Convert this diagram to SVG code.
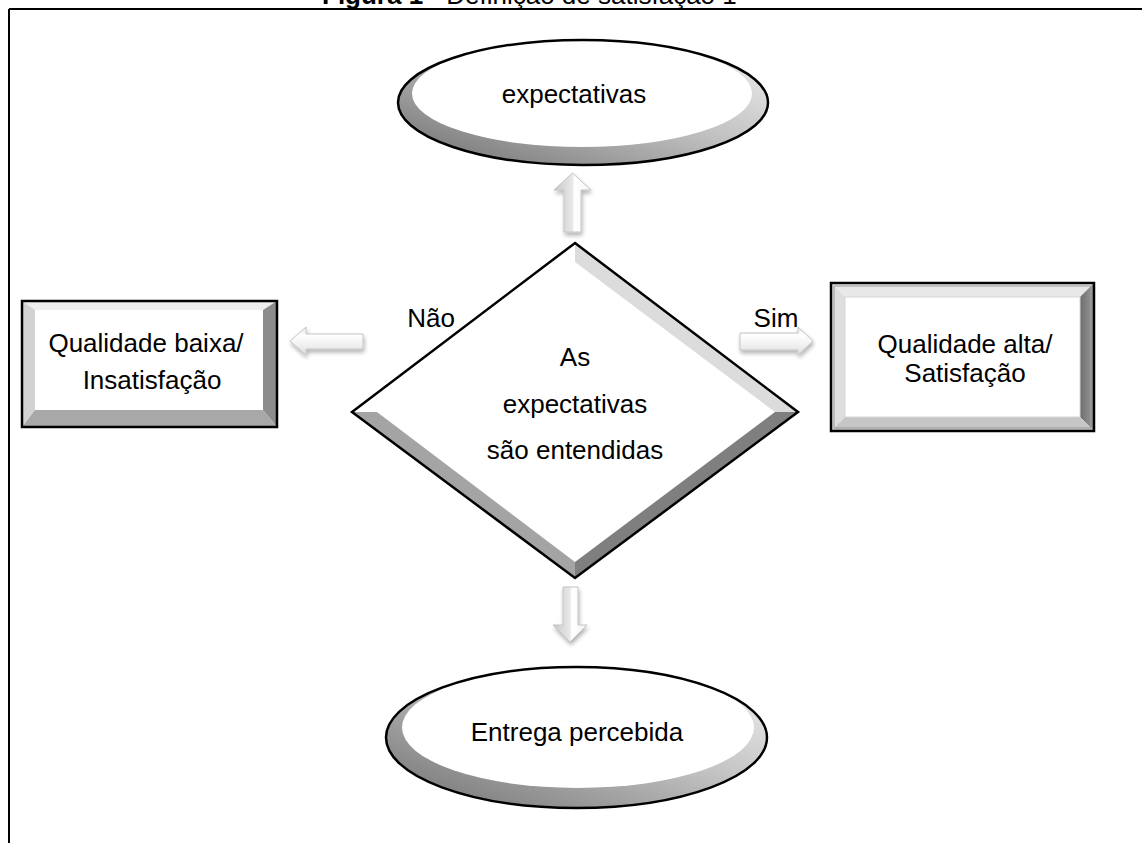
<svg xmlns="http://www.w3.org/2000/svg" width="1142" height="843" viewBox="0 0 1142 843">
<style>
.t{font-family:"Liberation Sans",Arial,Helvetica,sans-serif;font-size:26px;fill:#000;text-anchor:middle}
.ttl{font-family:"Liberation Sans",Arial,Helvetica,sans-serif;font-size:26px;fill:#000}
.frame{stroke:#000;stroke-width:2;fill:none}
.out{fill:none;stroke:#000;stroke-width:2.5}
.arr{stroke:#c4c4c4;stroke-width:1;filter:url(#sh)}
</style>
<defs>
<filter id="sh" x="-40%" y="-40%" width="180%" height="180%">
<feGaussianBlur in="SourceAlpha" stdDeviation="2"/>
<feOffset dx="1" dy="3" result="o"/>
<feComponentTransfer><feFuncA type="linear" slope="0.3"/></feComponentTransfer>
<feMerge><feMergeNode/><feMergeNode in="SourceGraphic"/></feMerge>
</filter>
<linearGradient id="elg" x1="1" y1="0" x2="0" y2="1">
<stop offset="0" stop-color="#f4f4f4"/>
<stop offset="0.45" stop-color="#c2c2c2"/>
<stop offset="1" stop-color="#6e6e6e"/>
</linearGradient>
<linearGradient id="hg" x1="0" y1="0" x2="0" y2="1">
<stop offset="0" stop-color="#e6e6e6"/>
<stop offset="0.3" stop-color="#fff"/>
<stop offset="1" stop-color="#e0e0e0"/>
</linearGradient>
<linearGradient id="vg" x1="0" y1="0" x2="1" y2="0">
<stop offset="0" stop-color="#c8c8c8"/>
<stop offset="0.5" stop-color="#e8e8e8"/>
<stop offset="0.55" stop-color="#fff"/>
<stop offset="1" stop-color="#f4f4f4"/>
</linearGradient>
<linearGradient id="rband" x1="0" y1="0" x2="1" y2="0">
<stop offset="0" stop-color="#6e6e6e"/>
<stop offset="1" stop-color="#9a9a9a"/>
</linearGradient>
</defs>

<text class="ttl" x="322" y="4"><tspan font-weight="bold">Figura 1</tspan> - Definição de satisfação 1</text>
<path class="frame" d="M9 9 H1142 M9 9 V843"/>

<g id="connectors">
<polygon class="arr" fill="url(#vg)" points="572.5,173 591,190 581,190 581,232 564,232 564,190 554,190"/>
<polygon class="arr" fill="url(#vg)" points="563,587 578,587 578,625 587,625 570,642 553,625 563,625"/>
<polygon class="arr" fill="url(#hg)" points="290,341 306,327 306,334 363,334 363,349 306,349 306,355"/>
<polygon class="arr" fill="url(#hg)" points="740,333 798,333 798,327 813,341 798,355 798,350 740,350"/>
<text class="t" x="431" y="327">Não</text>
<text class="t" x="776" y="327">Sim</text>
</g>

<g id="node-expectativas">
<ellipse cx="583" cy="102.5" rx="185" ry="62.5" fill="url(#elg)"/>
<ellipse cx="582" cy="93.5" rx="170" ry="53.5" fill="#fff"/>
<ellipse class="out" cx="583" cy="102.5" rx="185" ry="62.5"/>
<text class="t" x="574" y="103">expectativas</text>
</g>

<g id="node-decisao">
<polygon fill="#fff" points="575,243 575,262 775,412 575,562 377,412 352,412"/>
<polygon fill="#dcdcdc" points="575,243 798,412 775,412 575,262"/>
<polygon fill="#7f7f7f" points="798,412 575,578 575,562 775,412"/>
<polygon fill="#a4a4a4" points="575,578 352,412 377,412 575,562"/>
<polygon class="out" stroke-width="2" points="575,243 798,412 575,578 352,412"/>
<text class="t" x="575" y="366">As</text>
<text class="t" x="575" y="413">expectativas</text>
<text class="t" x="575" y="459">são entendidas</text>
</g>

<g id="node-baixa">
<rect x="22" y="301" width="255" height="126" fill="#fff"/>
<polygon fill="#ededed" points="22,301 277,301 263,310 35,310"/>
<polygon fill="#d2d2d2" points="22,301 35,310 35,410 22,427"/>
<polygon fill="#8c8c8c" points="277,301 277,427 263,410 263,310"/>
<polygon fill="#a8a8a8" points="22,427 35,410 263,410 277,427"/>
<rect class="out" stroke-width="2" x="22" y="301" width="255" height="126"/>
<text class="t" x="146" y="352">Qualidade baixa/</text>
<text class="t" x="152" y="389">Insatisfação</text>
</g>

<g id="node-alta">
<rect x="831" y="283" width="263" height="148" fill="#fff"/>
<polygon fill="#e8e8e8" points="831,283 1094,283 1080,297 845,297"/>
<polygon fill="#dedede" points="831,283 845,297 845,417 831,431"/>
<polygon fill="url(#rband)" points="1094,283 1094,431 1080,417 1080,297"/>
<polygon fill="#c6c6c6" points="831,431 845,417 1080,417 1094,431"/>
<rect x="845" y="297" width="235" height="120" fill="none" stroke="#d6d6d6" stroke-width="1"/>
<rect x="834" y="286" width="257" height="142" fill="none" stroke="#9a9a9a" stroke-width="1"/>
<rect class="out" stroke="#222" stroke-width="2.5" x="831" y="283" width="263" height="148"/>
<text class="t" x="965" y="353">Qualidade alta/</text>
<text class="t" x="965" y="382">Satisfação</text>
</g>

<g id="node-entrega">
<ellipse cx="576.5" cy="737.5" rx="190.5" ry="70.5" fill="url(#elg)"/>
<ellipse cx="578" cy="727.5" rx="176" ry="60.5" fill="#fff"/>
<ellipse class="out" cx="576.5" cy="737.5" rx="190.5" ry="70.5"/>
<text class="t" x="577" y="741">Entrega percebida</text>
</g>
</svg>
